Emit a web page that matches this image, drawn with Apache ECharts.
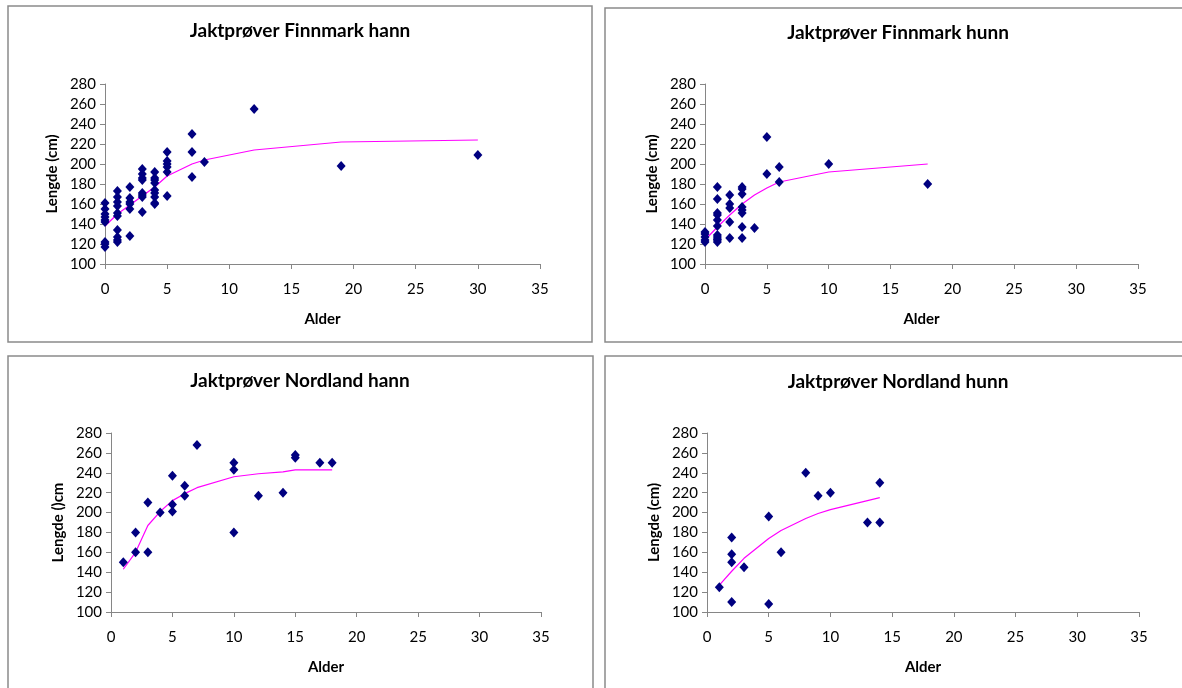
<!DOCTYPE html>
<html>
<head>
<meta charset="utf-8">
<script src="https://cdn.jsdelivr.net/npm/echarts@6/dist/echarts.min.js"></script>
<style>
html,body{margin:0;padding:0;background:#fff;}
#main{width:1182px;height:688px;}
</style>
</head>
<body>
<div id="main"></div>
<script>
// ---- Data ----
const titles = ["Jaktprøver Finnmark hann", "Jaktprøver Finnmark hunn", "Jaktprøver Nordland hann", "Jaktprøver Nordland hunn"];
const yNames = ["Lengde (cm)", "Lengde (cm)", "Lengde ()cm", "Lengde (cm)"];
const xName = "Alder";

// Finnmark hann (observations)
const fmHannAge = [0,0,0,0,0,0,0,0,0, 1,1,1,1,1,1,1,1,1,1, 2,2,2,2,2,2, 3,3,3,3,3,3,3,3, 4,4,4,4,4,4,4,4,4, 5,5,5,5,5,5, 7,7,7, 8, 12, 19, 30];
const fmHannLen = [161,155,150,147,144,142,122,120,117, 173,167,162,158,151,148,134,127,124,122, 177,166,162,160,155,128, 195,190,186,184,171,169,167,152, 192,186,184,181,174,171,167,161,160, 212,203,200,197,192,168, 230,212,187, 202, 255, 198, 209];
// Finnmark hann (fitted curve)
const fmHannFitAge = [0,1,2,3,4,5,7,8,12,19,30];
const fmHannFitLen = [138,150,159,168,177,188,200,204,214,222,224];

// Finnmark hunn
const fmHunnAge = [0,0,0,0,0, 1,1,1,1,1,1,1,1,1,1,1, 2,2,2,2,2, 3,3,3,3,3,3,3,3, 4, 5,5, 6,6, 10, 18];
const fmHunnLen = [132,130,127,124,122, 177,165,151,149,144,138,129,127,125,124,122, 169,160,156,142,126, 177,175,170,157,154,151,137,126, 136, 227,190, 197,182, 200, 180];
const fmHunnFitAge = [0,1,2,3,4,5,6,10,18];
const fmHunnFitLen = [124,137,149,160,169,176,182,192,200];

// Nordland hann
const nlHannAge = [1,2,2,3,3,4,5,5,5,6,6,7,10,10,10,12,14,15,15,17,18];
const nlHannLen = [150,180,160,210,160,200,237,208,201,227,217,268,250,243,180,217,220,258,255,250,250];
const nlHannFitAge = [1,2,3,4,5,6,7,10,12,14,15,17,18];
const nlHannFitLen = [143,160,187,201,212,219,225,236,239,241,243,243,243];

// Nordland hunn
const nlHunnAge = [1,2,2,2,2,3,5,5,6,8,9,10,13,14,14];
const nlHunnLen = [125,175,158,150,110,145,196,108,160,240,217,220,190,230,190];
const nlHunnFitAge = [1,2,3,5,6,8,9,10,13,14];
const nlHunnFitLen = [127,141,154,174,182,194,199,203,212,215];

const xTicks = {min: 0, max: 35, interval: 5};
const yTicks = {min: 100, max: 280, interval: 20};

// ---- Layout ----
const FONT = "Lato, 'Liberation Sans', sans-serif";
const panels = [
  {obsX: fmHannAge, obsY: fmHannLen, fitX: fmHannFitAge, fitY: fmHannFitLen, grid: {left:105, top:84, width:435, height:180}, titleX:300, titleY:31},
  {obsX: fmHunnAge, obsY: fmHunnLen, fitX: fmHunnFitAge, fitY: fmHunnFitLen, grid: {left:705, top:84, width:433, height:180}, titleX:898, titleY:33},
  {obsX: nlHannAge, obsY: nlHannLen, fitX: nlHannFitAge, fitY: nlHannFitLen, grid: {left:111, top:433, width:430, height:179}, titleX:300, titleY:381},
  {obsX: nlHunnAge, obsY: nlHunnLen, fitX: nlHunnFitAge, fitY: nlHunnFitLen, grid: {left:707, top:433, width:432, height:179}, titleX:898, titleY:382}
];

const zip = (a, b) => a.map((v, i) => [v, b[i]]);

const option = {
  backgroundColor: '#fff',
  animation: false,
  textStyle: {fontFamily: FONT},
  graphic: [
    {type:'rect', shape:{x:8, y:6, width:584, height:336}, style:{fill:'none', stroke:'#8a8a8a', lineWidth:1.5}},
    {type:'rect', shape:{x:605, y:8, width:600, height:334}, style:{fill:'none', stroke:'#8a8a8a', lineWidth:1.5}},
    {type:'rect', shape:{x:8, y:356, width:585, height:360}, style:{fill:'none', stroke:'#8a8a8a', lineWidth:1.5}},
    {type:'rect', shape:{x:605, y:356, width:600, height:360}, style:{fill:'none', stroke:'#8a8a8a', lineWidth:1.5}}
  ].concat(panels.map((p, i) => ({
    type:'text', x: p.titleX, y: p.titleY,
    style:{text: titles[i], fill:'#000', font: "bold 19px " + FONT, textAlign:'center', textVerticalAlign:'middle'}
  }))),
  grid: panels.map(p => Object.assign({containLabel:false}, p.grid)),
  xAxis: panels.map((p, i) => ({
    type:'value', gridIndex:i, min:xTicks.min, max:xTicks.max, interval:xTicks.interval,
    name: xName, nameLocation:'middle', nameGap:48,
    nameTextStyle:{fontWeight:'bold', fontSize:15, color:'#000', fontFamily:FONT},
    axisLine:{show:true, onZero:false, lineStyle:{color:'#868686', width:1}},
    axisTick:{show:true, inside:false, length:5, lineStyle:{color:'#868686'}},
    axisLabel:{color:'#000', fontSize:15, margin:18, fontFamily:FONT},
    splitLine:{show:false}
  })),
  yAxis: panels.map((p, i) => ({
    type:'value', gridIndex:i, min:yTicks.min, max:yTicks.max, interval:yTicks.interval,
    name: yNames[i], nameLocation:'middle', nameGap:45, nameRotate:90,
    nameTextStyle:{fontWeight:'bold', fontSize:15, color:'#000', fontFamily:FONT},
    axisLine:{show:true, onZero:false, lineStyle:{color:'#868686', width:1}},
    axisTick:{show:true, inside:false, length:5, lineStyle:{color:'#868686'}},
    axisLabel:{color:'#000', fontSize:15, margin:9, fontFamily:FONT},
    splitLine:{show:false}
  })),
  series: panels.flatMap((p, i) => [
    {type:'line', xAxisIndex:i, yAxisIndex:i, data: zip(p.fitX, p.fitY), symbol:'none',
     lineStyle:{color:'#ff00ff', width:1.2}, z:2},
    {type:'scatter', xAxisIndex:i, yAxisIndex:i, data: zip(p.obsX, p.obsY), symbol:'diamond',
     symbolSize:[9,10], itemStyle:{color:'#000080', opacity:1}, z:3}
  ])
};

const chart = echarts.init(document.getElementById('main'), null, {renderer:'canvas'});
chart.setOption(option);
</script>
</body>
</html>
